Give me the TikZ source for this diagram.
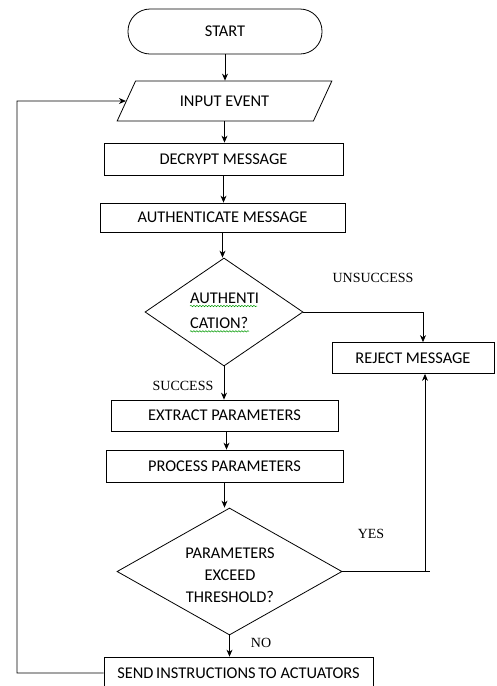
\documentclass[tikz,border=0pt]{standalone}
\usepackage{fontspec}
\setmainfont{Carlito}
\newfontfamily\lblfont{Liberation Serif}
\usetikzlibrary{shapes.geometric,arrows.meta,calc,decorations.pathmorphing}
\begin{document}
\begin{tikzpicture}[x=1pt,y=-1pt,
  box/.style={draw, line width=0.8pt, inner sep=0pt, font=\fontsize{16.4}{18}\selectfont},
  lbl/.style={font=\lblfont\fontsize{14}{16}\selectfont, inner sep=0pt},
  txt/.style={font=\fontsize{16.4}{18}\selectfont, inner sep=0pt},
  flow/.style={line width=0.8pt, -{Stealth[length=7pt,width=6pt]}},
  plain/.style={line width=0.8pt},
  wavy/.style={draw=green!60!black, decorate, decoration={snake, amplitude=0.7pt, segment length=3pt}, line width=0.5pt}]
\useasboundingbox (0,0) rectangle (496,686);

\node[box, rounded corners=22pt, minimum width=194pt, minimum height=45pt] (start) at (225,31.5) {START};
\node[box, shape=trapezium, trapezium left angle=49, trapezium right angle=131, trapezium stretches=true, minimum width=215pt, minimum height=40pt] (input) at (224.5,101) {INPUT EVENT};
\node[box, minimum width=239pt, minimum height=32pt] (decrypt) at (223.5,159) {DECRYPT MESSAGE};
\node[box, minimum width=245pt, minimum height=29pt] (auth) at (222.5,217.5) {AUTHENTICATE MESSAGE};
\node[draw, line width=0.8pt, shape=diamond, inner sep=0pt, minimum width=158pt, minimum height=108pt] (dia1) at (224,312) {};
\node[txt, anchor=west] (d1a) at (190,298) {AUTHENTI};
\node[txt, anchor=west] (d1b) at (190,323) {CATION?};
\draw[wavy] (d1a.south west) ++(0,2.5) -- ++(67,0);
\draw[wavy] (d1b.south west) ++(0,2.5) -- ++(59,0);
\node[box, minimum width=162pt, minimum height=31pt] (reject) at (413,358) {REJECT MESSAGE};
\node[box, minimum width=227pt, minimum height=31pt] (extract) at (224.5,415.5) {EXTRACT PARAMETERS};
\node[box, minimum width=237pt, minimum height=32pt] (process) at (224.5,466) {PROCESS PARAMETERS};
\node[draw, line width=0.8pt, shape=diamond, inner sep=0pt, minimum width=225pt, minimum height=127pt] (dia2) at (229.5,571.5) {};
\node[txt] (d2a) at (230,553) {PARAMETERS};
\node[txt] (d2b) at (230,575) {EXCEED};
\node[txt] (d2c) at (230,597) {THRESHOLD?};
\node[box, minimum width=269pt, minimum height=32pt] (send) at (238.5,673) {SEND\,INSTRUCTIONS\,TO ACTUATORS};

\node[lbl] (unsucc) at (373,278) {UNSUCCESS};
\node[lbl] (succ) at (183,386) {SUCCESS};
\node[lbl] (yes) at (371,534) {YES};
\node[lbl] (no) at (261,643) {NO};

\draw[flow] (start.south) -- (start.south |- input.north);
\draw[flow] (input.south) -- (input.south |- decrypt.north);
\draw[flow] (decrypt.south) -- (decrypt.south |- auth.north);
\draw[flow] (auth.south) -- (auth.south |- dia1.north);
\draw[flow] (dia1.east) -| ($(reject.north)+(10,0)$);
\draw[flow] (dia1.south) -- (dia1.south |- extract.north);
\draw[flow] ($(extract.south)+(2,0)$) -- ($(extract.south |- process.north)+(2,0)$);
\draw[flow] (process.south) -- (process.south |- dia2.north);
\coordinate (yesend) at (430,571.5);
\draw[plain] (dia2.east) -- (yesend);
\draw[flow] ($(yesend)+(-5,0)$) -- ($(reject.south)+(12,0)$);
\draw[flow] (dia2.south) -- (dia2.south |- send.north);
\coordinate (loopbot) at (17,673);
\coordinate (looptop) at (17,101);
\draw[flow] (send.west) -- (loopbot) -- (looptop) -- (input.west);
\end{tikzpicture}
\end{document}
